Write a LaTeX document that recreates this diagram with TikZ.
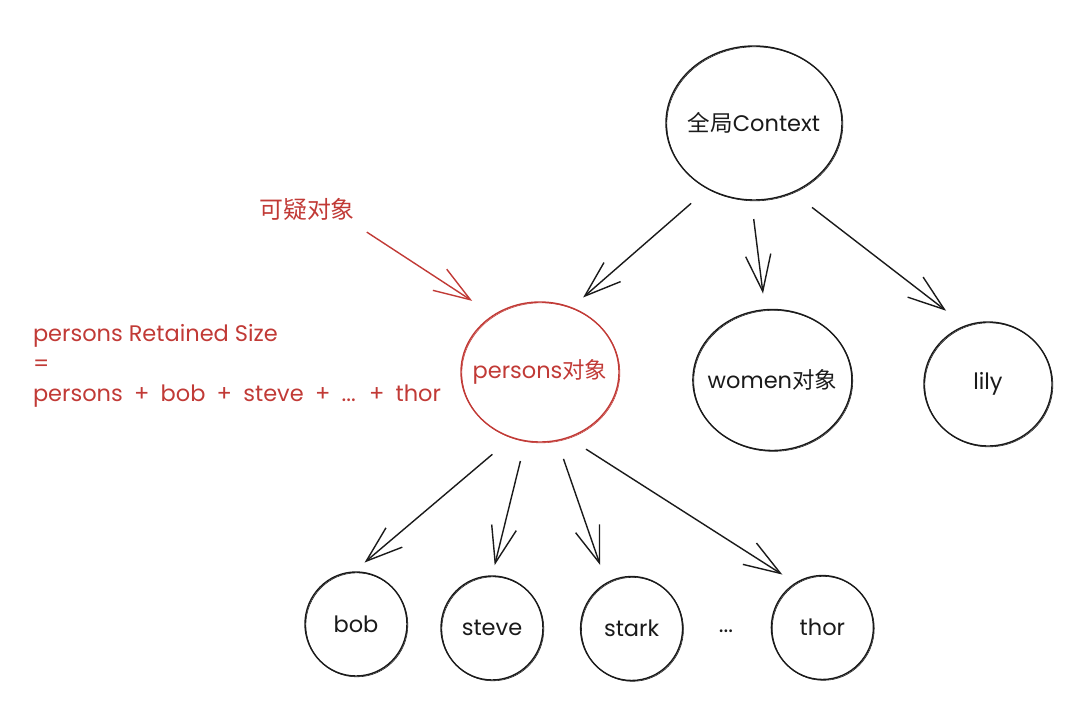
\documentclass[tikz,border=0pt]{standalone}
\usepackage{fontspec}
\setmainfont{Poppins}
\newfontfamily\cjk{Noto Sans CJK SC}
\usetikzlibrary{arrows.meta,shapes.geometric}
\definecolor{sketchred}{HTML}{C13A36}
\definecolor{sketchink}{HTML}{1A1A1A}
% text that does not widen the circle round it
\newcommand{\inball}[1]{\hbox to 0pt{\hss #1\hss}}
\begin{document}
\begin{tikzpicture}

\tikzstyle{every node} = [inner sep=0, outer sep=0, text=sketchink, font=\fontsize{16}{21.3}\selectfont]
\tikzstyle{ball} = [ellipse, draw=sketchink, line width=1pt, postaction={draw, line width=.4pt, transform canvas={shift={(.6pt,-.6pt)}}}]
\tikzstyle{leaf} = [ball, minimum width=2.55cm, minimum height=2.6cm]
\tikzstyle{redball} = [ball, draw=sketchred, text=sketchred]
\tikzstyle{note} = [text=sketchred]
\tikzstyle{conn} = [draw=sketchink, line width=1pt, -{Straight Barb[length=26pt, width=18pt]}]
\tikzstyle{redconn} = [conn, draw=sketchred]

\useasboundingbox (0,0) rectangle (27,17.625);

\node[ball, minimum width=4.4cm, minimum height=3.85cm] (ctx) at (18.85,14.55) {\inball{{\cjk 全局}Context}};

\node[redball, minimum width=3.95cm, minimum height=3.5cm] (persons) at (13.5,8.325) {\inball{persons{\cjk 对象}}};
\node[ball, minimum width=3.975cm, minimum height=3.525cm] (women) at (19.31,8.125) {\inball{women{\cjk 对象}}};
\node[ball, minimum width=3.2cm, minimum height=3.1cm] (lily) at (24.7,8.025) {\inball{lily}};

\node[leaf] (bob) at (8.9,2.025) {\inball{bob}};
\node[leaf] (steve) at (12.3,1.925) {\inball{steve}};
\node[leaf] (stark) at (15.79,1.9125) {\inball{stark}};
\node (dots) at (18.15,1.85) {...};
\node[leaf] (thor) at (20.56,1.9375) {\inball{thor}};

\node[note, font=\fontsize{17}{21}\selectfont\cjk] (suspect) at (7.675,12.4) {可疑对象};
\node[note, anchor=west, align=left] (formula) at (.825,8.475) {persons Retained Size\\=\\\spaceskip=.5em persons + bob + steve + ... + thor};

\draw[conn, shorten <=.56cm, shorten >=.39cm] (ctx.-125.9) -- (persons.64.2);
\draw[conn, shorten <=.48cm, shorten >=.41cm] (ctx.-92) -- (women.96);
\draw[conn, shorten <=.62cm, shorten >=.62cm] (ctx.-61.9) -- (lily.111.9);

\draw[conn, shorten <=.65cm, shorten >=.37cm] (persons.-113.4) -- (bob.93.8);
\draw[conn, shorten <=.52cm, shorten >=.28cm] (persons.-102.2) -- (steve.90.8);
\draw[conn, shorten <=.49cm, shorten >=.48cm] (persons.-76.5) -- (stark.119);
\draw[conn, shorten <=.54cm, shorten >=.4cm] (persons.-67) -- (thor.121.5);

\draw[redconn, shorten <=.55cm, shorten >=.65cm] (suspect.-15) -- (persons.129.9);
\end{tikzpicture}
\end{document}
